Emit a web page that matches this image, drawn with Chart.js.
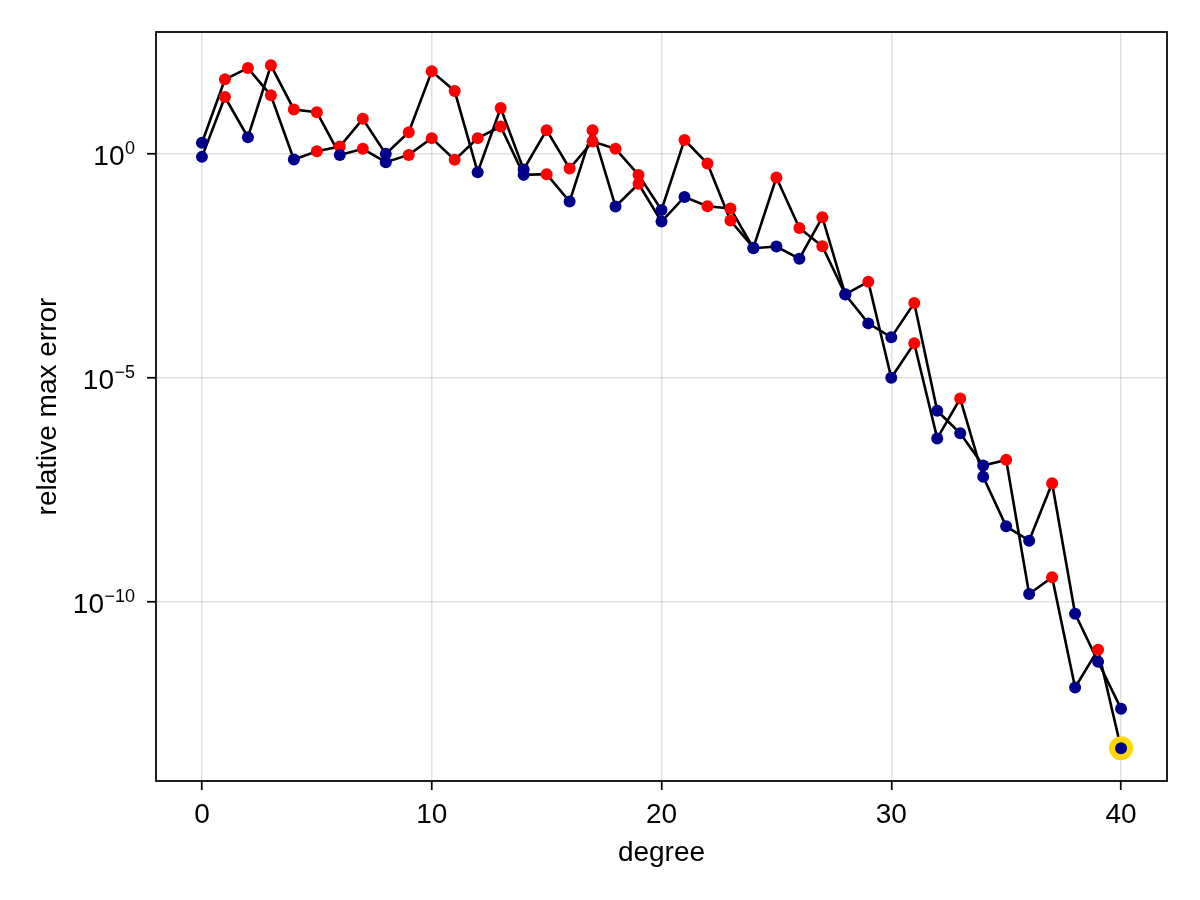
<!DOCTYPE html>
<html>
<head>
<meta charset="utf-8">
<title>relative max error vs degree</title>
<script src="https://cdn.jsdelivr.net/npm/chart.js@4.4.1/dist/chart.umd.min.js"></script>
<style>
  html, body { margin: 0; padding: 0; background: #fff; }
  #wrap { width: 1200px; height: 900px; position: relative; }
</style>
</head>
<body>
<div id="wrap"><canvas id="chart"></canvas></div>
<script>
// values
const degrees = [0, 1, 2, 3, 4, 5, 6, 7, 8, 9, 10, 11, 12, 13, 14, 15, 16, 17, 18, 19, 20,
  21, 22, 23, 24, 25, 26, 27, 28, 29, 30, 31, 32, 33, 34, 35, 36, 37, 38, 39, 40];

const errorsA = [1.73, 45.0, 80.4, 19.8, 0.735, 1.12, 1.43, 5.93, 0.98, 2.99,
  67.9, 24.7, 0.382, 10.3, 0.44, 3.31, 0.462, 1.85, 1.27, 0.333,
  0.055, 2.01, 0.598, 0.0318, 7.9e-3, 0.291, 0.0218, 8.5e-3, 7.2e-4, 1.38e-3,
  9.9e-6, 5.8e-5, 4.4e-7, 3.4e-6, 6.1e-8, 4.8e-9, 2.3e-9, 4.4e-8, 5.4e-11, 4.6e-12, 4.1e-13];

const errorsB = [0.84, 18.1, 2.31, 92.5, 9.6, 8.36, 0.93, 1.27, 0.64, 0.93,
  2.2, 0.72, 2.2, 4.0, 0.333, 0.345, 0.0847, 3.31, 0.0655, 0.21,
  0.0303, 0.107, 0.0665, 0.059, 7.7e-3, 8.4e-3, 4.5e-3, 0.0378, 7.1e-4, 1.62e-4,
  7.9e-5, 4.6e-4, 1.82e-6, 5.7e-7, 1.09e-7, 1.46e-7, 1.49e-10, 3.5e-10, 1.22e-12, 8.5e-12, 5.4e-14];

// marker colour per point: r = red, b = navy
const markersA = ['b','r','r','r','b','r','r','r','b','r','r','r','b','r','b','r','r','r','r','r','b',
  'r','r','r','b','r','r','r','b','r','b','r','b','r','b','b','b','r','b','b','b'];
const markersB = ['b','r','b','r','r','r','b','r','b','r','r','r','r','r','b','r','b','r','b','r','b',
  'b','r','r','b','b','b','r','b','b','b','r','b','b','b','r','b','r','b','r','b'];

const bestDegree = 40;
const bestError = 5.4e-14;

const xTickValues = [0, 10, 20, 30, 40];
const yTickValues = [1e-10, 1e-5, 1];

const RED = '#ff0000';
const NAVY = '#00008b';
const FONT = '"Liberation Sans", Arial, sans-serif';

function pts(ys) {
  return degrees.map((d, i) => ({ x: d, y: ys[i] }));
}
function cols(m) {
  return m.map(c => (c === 'r' ? RED : NAVY));
}

const lineStyle = {
  showLine: true,
  borderColor: '#000',
  borderWidth: 2.6,
  pointRadius: 0,
  tension: 0,
  order: 10
};

// frame around the plot and 10^n tick labels with raised exponent
const framePlugin = {
  id: 'frame',
  afterDraw(chart) {
    const { ctx, chartArea: a } = chart;
    const y = chart.scales.y;
    ctx.save();
    ctx.strokeStyle = '#000';
    ctx.lineWidth = 1.75;
    ctx.strokeRect(a.left, a.top, a.right - a.left, a.bottom - a.top);

    ctx.fillStyle = '#000';
    ctx.textAlign = 'right';
    ctx.textBaseline = 'alphabetic';
    const right = a.left - 21;
    y.ticks.forEach(t => {
      const py = y.getPixelForValue(t.value);
      const e = Math.round(Math.log10(t.value));
      const expText = e < 0 ? '\u2212' + (-e) : String(e);
      ctx.font = '18px ' + FONT;
      ctx.fillText(expText, right, py + 0.7);
      const w = ctx.measureText(expText).width;
      ctx.font = '28px ' + FONT;
      ctx.fillText('10', right - w - 0.5, py + 11.7);
    });
    ctx.restore();
  }
};

new Chart(document.getElementById('chart'), {
  type: 'scatter',
  data: {
    datasets: [
      Object.assign({ data: pts(errorsA) }, lineStyle),
      Object.assign({ data: pts(errorsB) }, lineStyle),
      {
        data: [{ x: bestDegree, y: bestError }],
        pointRadius: 12,
        pointBackgroundColor: '#ffd700',
        pointBorderWidth: 0,
        order: 5
      },
      {
        data: pts(errorsA),
        pointRadius: 6,
        pointBackgroundColor: cols(markersA),
        pointBorderWidth: 0,
        order: 2
      },
      {
        data: pts(errorsB),
        pointRadius: 6,
        pointBackgroundColor: cols(markersB),
        pointBorderWidth: 0,
        order: 1
      }
    ]
  },
  options: {
    responsive: true,
    maintainAspectRatio: false,
    devicePixelRatio: 1,
    animation: false,
    layout: { padding: { left: 0, top: 32, right: 33, bottom: 0 } },
    plugins: { legend: { display: false }, tooltip: { enabled: false } },
    scales: {
      x: {
        type: 'linear',
        min: -2,
        max: 42,
        afterBuildTicks: s => { s.ticks = xTickValues.map(v => ({ value: v })); },
        afterFit: s => { s.height = 119; },
        border: { display: false },
        grid: {
          color: 'rgba(0,0,0,0.12)',
          lineWidth: 1.5,
          drawTicks: true,
          tickLength: 9,
          tickColor: '#000',
          tickWidth: 1.75
        },
        ticks: {
          color: '#000',
          padding: 8,
          maxRotation: 0,
          font: { family: FONT, size: 28 }
        },
        title: {
          display: true,
          text: 'degree',
          color: '#000',
          font: { family: FONT, size: 28 },
          padding: { top: 0, bottom: 29.6 }
        }
      },
      y: {
        type: 'logarithmic',
        min: 1e-14,
        max: 513,
        afterBuildTicks: s => { s.ticks = yTickValues.map(v => ({ value: v })); },
        afterFit: s => { s.width = 156; },
        border: { display: false },
        grid: {
          color: 'rgba(0,0,0,0.12)',
          lineWidth: 1.5,
          drawTicks: true,
          tickLength: 9,
          tickColor: '#000',
          tickWidth: 1.75
        },
        ticks: { display: false },
        title: {
          display: true,
          text: 'relative max error',
          color: '#000',
          font: { family: FONT, size: 28 },
          padding: { top: 31.8, bottom: 0 }
        }
      }
    }
  },
  plugins: [framePlugin]
});
</script>
</body>
</html>
